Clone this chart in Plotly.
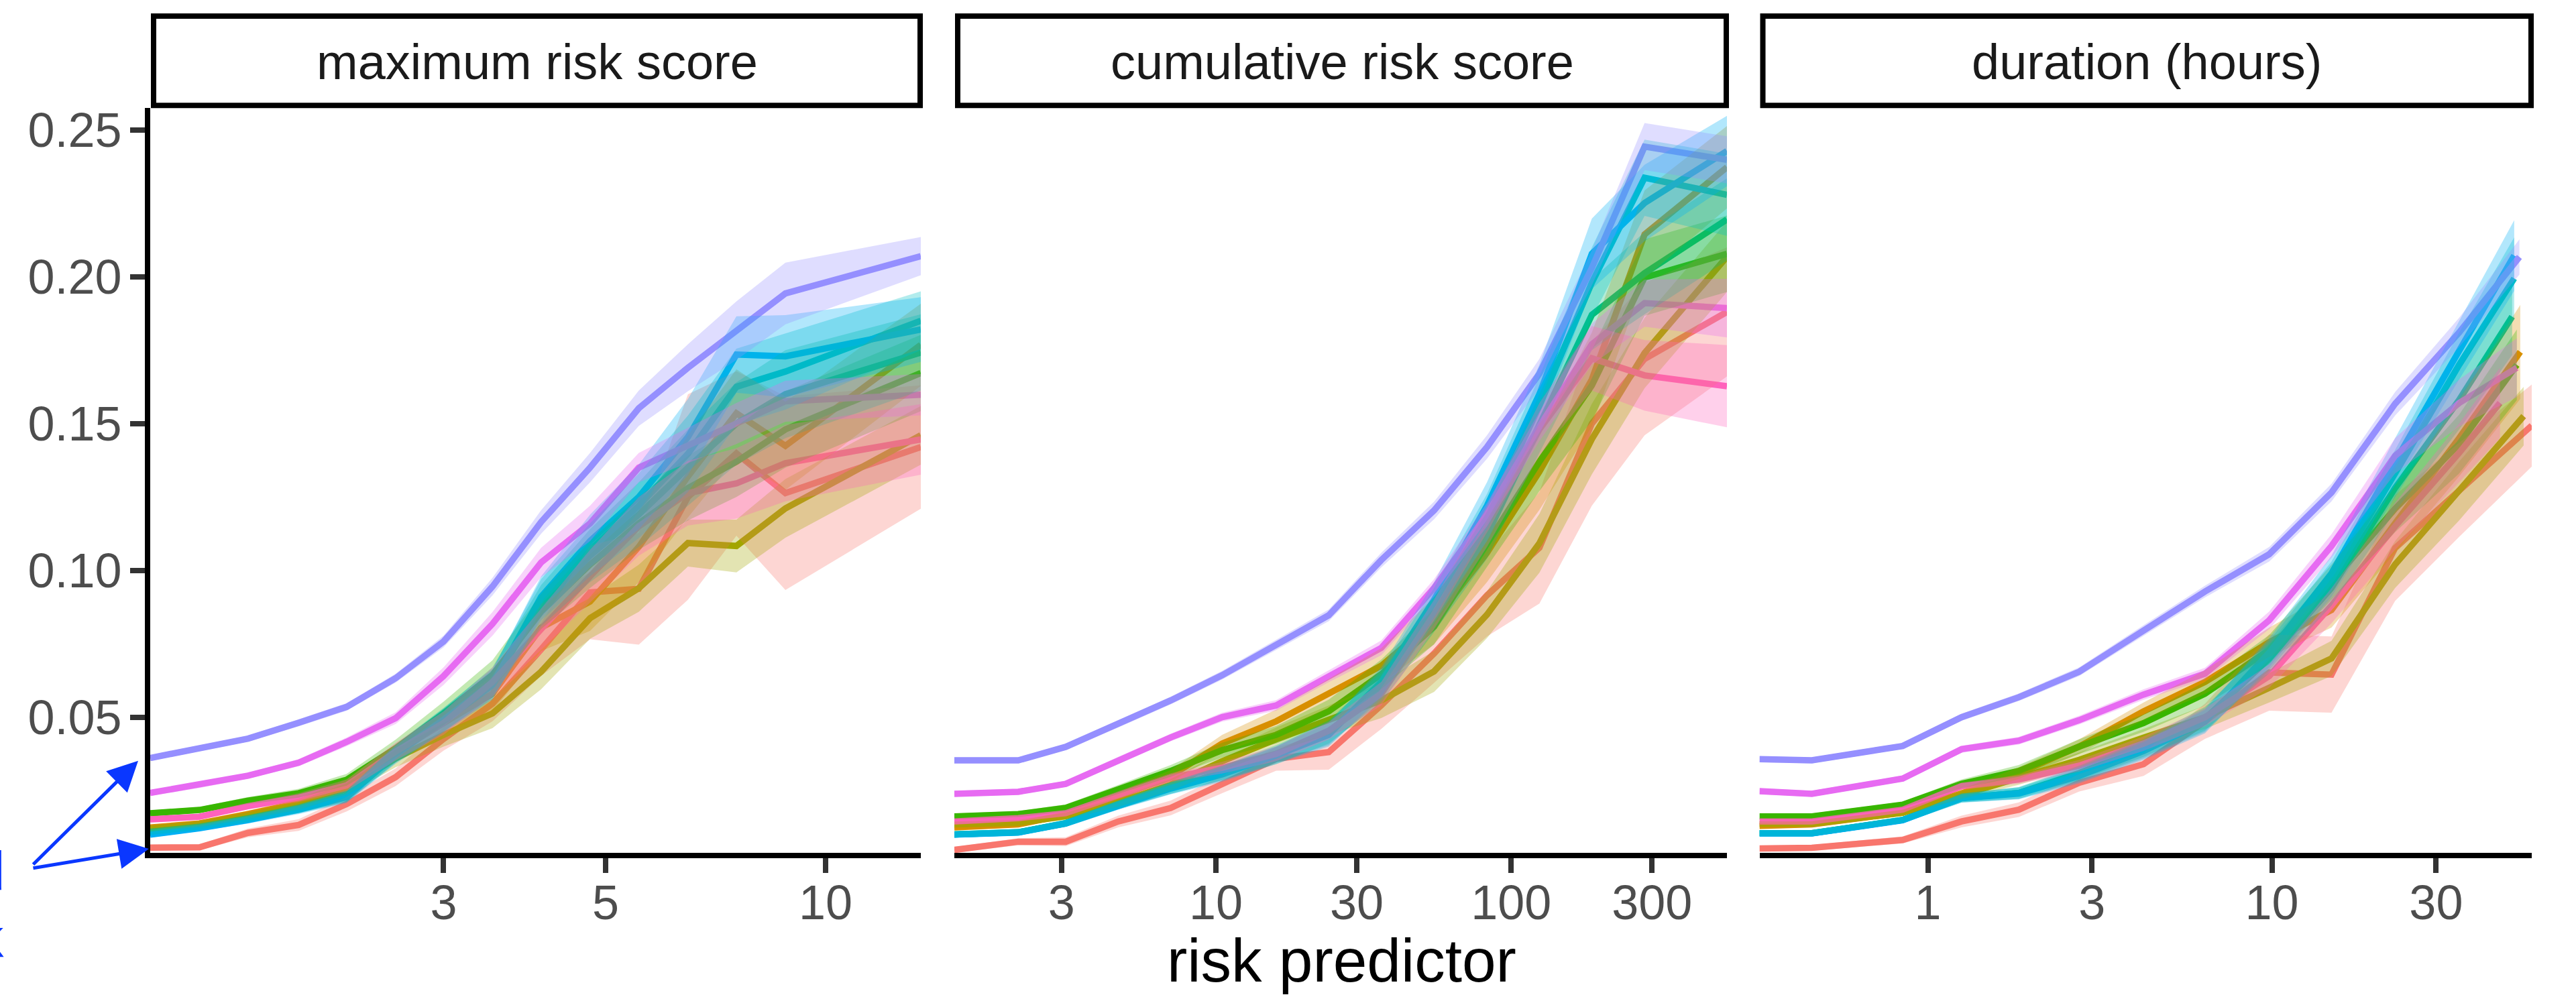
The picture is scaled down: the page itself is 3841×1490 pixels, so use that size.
import plotly.graph_objects as go
import math

W, H = 3841, 1490

# ---------------- data ----------------
SERIES = ["group 1", "group 2", "group 3", "group 4", "group 5",
          "group 6", "group 7", "group 8", "group 9", "group 10"]
COLORS = ["#F8766D", "#D89000", "#A3A500", "#39B600", "#00BF7D",
          "#00BFC4", "#00B0F6", "#9590FF", "#E76BF3", "#FF62BC"]

PANEL_TITLES = ["maximum risk score", "cumulative risk score", "duration (hours)"]
X_AXIS_TITLE = "risk predictor"
Y_TICKS = [0.05, 0.10, 0.15, 0.20, 0.25]
Y_TICK_LABELS = ["0.05", "0.10", "0.15", "0.20", "0.25"]
P1_TICKS = [3, 5, 10]
P2_TICKS = [3, 10, 30, 100, 300]
P3_TICKS = [1, 3, 10, 30]

# panel 1: maximum risk score
P1_X = [1.19, 1.39, 1.62, 1.90, 2.21, 2.58, 3.0, 3.50, 4.08, 4.76, 5.55, 6.48, 7.55, 8.81, 13.5]
P1_MEAN = {
    "group 1":  [0.0056, 0.0057, 0.0106, 0.0133, 0.0204, 0.0296, 0.0426, 0.0546, 0.0731, 0.0925, 0.0937, 0.125, 0.1398, 0.1263, 0.142],
    "group 2":  [0.0124, 0.0138, 0.0170, 0.0207, 0.0268, 0.0380, 0.0480, 0.0580, 0.0805, 0.0894, 0.108, 0.132, 0.1535, 0.1424, 0.1768],
    "group 3":  [0.0120, 0.0135, 0.0165, 0.0200, 0.0255, 0.0360, 0.0440, 0.0513, 0.0655, 0.0837, 0.0939, 0.1093, 0.1083, 0.1211, 0.146],
    "group 4":  [0.0173, 0.0184, 0.0216, 0.0241, 0.0287, 0.0394, 0.0513, 0.0644, 0.0860, 0.102, 0.116, 0.128, 0.137, 0.148, 0.1672],
    "group 5":  [0.0110, 0.0127, 0.0155, 0.0189, 0.0232, 0.0375, 0.0490, 0.0620, 0.088, 0.105, 0.119, 0.135, 0.150, 0.160, 0.1742],
    "group 6":  [0.0106, 0.0125, 0.0153, 0.0187, 0.0230, 0.0378, 0.0492, 0.0615, 0.090, 0.107, 0.122, 0.1397, 0.1625, 0.1677, 0.185],
    "group 7":  [0.0100, 0.0122, 0.0150, 0.0185, 0.0228, 0.0372, 0.0488, 0.0610, 0.091, 0.110, 0.125, 0.1454, 0.1735, 0.1729, 0.182],
    "group 8":  [0.0361, 0.0394, 0.0427, 0.0481, 0.0535, 0.0633, 0.0758, 0.0945, 0.1165, 0.135, 0.1552, 0.169, 0.1816, 0.1943, 0.207],
    "group 9":  [0.0242, 0.0269, 0.0301, 0.0345, 0.0416, 0.0497, 0.0640, 0.0818, 0.1027, 0.116, 0.135, 0.1425, 0.150, 0.1576, 0.1598],
    "group 10": [0.0152, 0.0161, 0.0197, 0.0226, 0.0268, 0.0383, 0.0480, 0.062, 0.080, 0.098, 0.115, 0.1263, 0.1296, 0.1365, 0.1446],
}
P1_ERR = {
    "group 1":  [0.001, 0.001, 0.0015, 0.002, 0.0025, 0.003, 0.004, 0.006, 0.009, 0.016, 0.019, 0.035, 0.028, 0.033, 0.021],
    "group 2":  [0.001, 0.001, 0.0012, 0.0015, 0.002, 0.003, 0.004, 0.006, 0.008, 0.010, 0.012, 0.014, 0.015, 0.015, 0.014],
    "group 3":  [0.001, 0.001, 0.0012, 0.0015, 0.002, 0.003, 0.004, 0.005, 0.006, 0.007, 0.008, 0.008, 0.009, 0.010, 0.010],
    "group 4":  [0.001, 0.001, 0.0012, 0.0015, 0.002, 0.003, 0.004, 0.005, 0.006, 0.008, 0.009, 0.011, 0.012, 0.013, 0.013],
    "group 5":  [0.001, 0.001, 0.0012, 0.0015, 0.002, 0.003, 0.004, 0.005, 0.007, 0.009, 0.011, 0.013, 0.014, 0.015, 0.013],
    "group 6":  [0.001, 0.001, 0.0012, 0.0015, 0.002, 0.003, 0.004, 0.005, 0.007, 0.009, 0.011, 0.013, 0.013, 0.013, 0.010],
    "group 7":  [0.001, 0.001, 0.0012, 0.0015, 0.002, 0.003, 0.004, 0.005, 0.007, 0.009, 0.011, 0.013, 0.013, 0.014, 0.011],
    "group 8":  [0.001, 0.001, 0.001, 0.0012, 0.0013, 0.0015, 0.002, 0.003, 0.004, 0.005, 0.006, 0.008, 0.010, 0.0105, 0.0065],
    "group 9":  [0.001, 0.001, 0.001, 0.0012, 0.0015, 0.002, 0.003, 0.004, 0.005, 0.006, 0.005, 0.006, 0.007, 0.007, 0.007],
    "group 10": [0.001, 0.001, 0.001, 0.0015, 0.002, 0.003, 0.004, 0.005, 0.007, 0.009, 0.010, 0.011, 0.012, 0.013, 0.012],
}

# panel 2: cumulative risk score
P2_X = [1.30, 2.14, 3.10, 4.67, 7.03, 10.5, 16.0, 24.1, 36.3, 54.8, 82.8, 124.6, 187.6, 283, 538]
P2_MEAN = {
    "group 1":  [0.0048, 0.0076, 0.0076, 0.0145, 0.0191, 0.0271, 0.0358, 0.0381, 0.0540, 0.0717, 0.0915, 0.1077, 0.150, 0.172, 0.188],
    "group 2":  [0.0125, 0.0135, 0.0168, 0.023, 0.030, 0.041, 0.0486, 0.058, 0.0675, 0.0828, 0.106, 0.1336, 0.165, 0.2144, 0.2373],
    "group 3":  [0.0135, 0.0140, 0.0163, 0.021, 0.027, 0.035, 0.0425, 0.049, 0.0557, 0.0656, 0.0849, 0.1092, 0.1447, 0.174, 0.2068],
    "group 4":  [0.0162, 0.0170, 0.0191, 0.0254, 0.0317, 0.0388, 0.0440, 0.052, 0.0646, 0.0808, 0.1092, 0.137, 0.163, 0.1997, 0.2078],
    "group 5":  [0.0101, 0.0108, 0.0139, 0.0202, 0.0259, 0.031, 0.037, 0.045, 0.060, 0.085, 0.112, 0.150, 0.187, 0.2012, 0.2195],
    "group 6":  [0.0101, 0.0108, 0.0139, 0.0202, 0.0259, 0.031, 0.0375, 0.0445, 0.061, 0.088, 0.118, 0.156, 0.198, 0.2337, 0.2279],
    "group 7":  [0.0100, 0.0107, 0.0138, 0.0200, 0.0257, 0.0305, 0.037, 0.044, 0.062, 0.090, 0.122, 0.160, 0.2078, 0.2251, 0.2428],
    "group 8":  [0.0353, 0.0353, 0.0399, 0.0477, 0.0557, 0.0643, 0.0746, 0.0847, 0.1035, 0.1204, 0.1420, 0.1670, 0.203, 0.2443, 0.2398],
    "group 9":  [0.0239, 0.0246, 0.0273, 0.0353, 0.0431, 0.0500, 0.0540, 0.0639, 0.0736, 0.094, 0.119, 0.149, 0.177, 0.191, 0.1893],
    "group 10": [0.0145, 0.0156, 0.0173, 0.0236, 0.0294, 0.0328, 0.0375, 0.0454, 0.058, 0.085, 0.115, 0.148, 0.1722, 0.1664, 0.1627],
}
P2_ERR = {
    "group 1":  [0.001, 0.0012, 0.0015, 0.002, 0.0025, 0.003, 0.004, 0.006, 0.008, 0.010, 0.014, 0.019, 0.028, 0.026, 0.022],
    "group 2":  [0.001, 0.001, 0.0012, 0.0015, 0.002, 0.003, 0.004, 0.005, 0.006, 0.008, 0.010, 0.013, 0.016, 0.015, 0.014],
    "group 3":  [0.001, 0.001, 0.0012, 0.0015, 0.002, 0.003, 0.004, 0.005, 0.006, 0.007, 0.008, 0.010, 0.012, 0.012, 0.012],
    "group 4":  [0.001, 0.001, 0.0012, 0.0015, 0.002, 0.0025, 0.003, 0.004, 0.005, 0.006, 0.008, 0.010, 0.012, 0.013, 0.013],
    "group 5":  [0.001, 0.001, 0.0012, 0.0015, 0.002, 0.0025, 0.003, 0.004, 0.005, 0.006, 0.008, 0.010, 0.012, 0.014, 0.014],
    "group 6":  [0.001, 0.001, 0.0012, 0.0015, 0.002, 0.0025, 0.003, 0.004, 0.005, 0.006, 0.008, 0.010, 0.012, 0.013, 0.014],
    "group 7":  [0.001, 0.001, 0.0012, 0.0015, 0.002, 0.0025, 0.003, 0.004, 0.005, 0.006, 0.008, 0.010, 0.012, 0.013, 0.012],
    "group 8":  [0.001, 0.001, 0.001, 0.0012, 0.0013, 0.0015, 0.0018, 0.002, 0.0025, 0.003, 0.004, 0.005, 0.006, 0.008, 0.008],
    "group 9":  [0.001, 0.001, 0.001, 0.0012, 0.0013, 0.0015, 0.0018, 0.002, 0.0025, 0.003, 0.004, 0.005, 0.007, 0.008, 0.010],
    "group 10": [0.001, 0.001, 0.001, 0.0012, 0.0015, 0.002, 0.0025, 0.003, 0.004, 0.005, 0.007, 0.009, 0.011, 0.012, 0.014],
}

# panel 3: duration (hours); last x differs per group
P3_X = [0.324, 0.460, 0.845, 1.253, 1.838, 2.755, 4.236, 6.39, 9.82, 14.9, 22.8, 35.0]
P3_END_X = {
    "group 1": 56.9, "group 2": 52.7, "group 3": 53.9, "group 4": 51.5, "group 5": 49.9,
    "group 6": 50.6, "group 7": 50.6, "group 8": 52.4, "group 9": 51.5, "group 10": 46.0,
}
P3_MEAN = {
    "group 1":  [0.0053, 0.0055, 0.0082, 0.0145, 0.0185, 0.0277, 0.034, 0.0486, 0.0652, 0.0645, 0.1076, 0.1274, 0.1493],
    "group 2":  [0.0130, 0.0135, 0.0175, 0.024, 0.031, 0.040, 0.052, 0.062, 0.0755, 0.0865, 0.116, 0.145, 0.1744],
    "group 3":  [0.0137, 0.0137, 0.0175, 0.0236, 0.029, 0.0355, 0.043, 0.050, 0.060, 0.070, 0.102, 0.127, 0.1525],
    "group 4":  [0.0162, 0.0162, 0.0202, 0.0273, 0.0317, 0.040, 0.048, 0.058, 0.073, 0.096, 0.121, 0.143, 0.170],
    "group 5":  [0.0105, 0.0105, 0.0150, 0.0225, 0.0242, 0.0310, 0.0395, 0.0495, 0.070, 0.094, 0.128, 0.158, 0.1864],
    "group 6":  [0.0105, 0.0105, 0.0150, 0.0225, 0.0242, 0.0305, 0.0390, 0.0490, 0.071, 0.097, 0.133, 0.170, 0.1994],
    "group 7":  [0.0104, 0.0104, 0.0149, 0.0224, 0.0240, 0.0300, 0.0385, 0.0485, 0.072, 0.099, 0.137, 0.175, 0.2072],
    "group 8":  [0.0357, 0.0353, 0.0402, 0.050, 0.0568, 0.0655, 0.0795, 0.0928, 0.1055, 0.1265, 0.1567, 0.181, 0.2067],
    "group 9":  [0.0248, 0.0239, 0.0291, 0.0391, 0.042, 0.049, 0.0577, 0.0648, 0.083, 0.1083, 0.139, 0.157, 0.169],
    "group 10": [0.0145, 0.0145, 0.0185, 0.0265, 0.0288, 0.0335, 0.041, 0.050, 0.064, 0.088, 0.115, 0.140, 0.157],
}
P3_ERR = {
    "group 1":  [0.001, 0.001, 0.0012, 0.002, 0.0025, 0.003, 0.004, 0.006, 0.013, 0.013, 0.018, 0.016, 0.014],
    "group 2":  [0.001, 0.001, 0.001, 0.0015, 0.002, 0.0025, 0.003, 0.004, 0.005, 0.006, 0.010, 0.013, 0.016],
    "group 3":  [0.001, 0.001, 0.001, 0.0015, 0.002, 0.0025, 0.003, 0.004, 0.005, 0.006, 0.008, 0.010, 0.010],
    "group 4":  [0.001, 0.001, 0.001, 0.0015, 0.002, 0.0025, 0.003, 0.004, 0.005, 0.006, 0.008, 0.010, 0.012],
    "group 5":  [0.001, 0.001, 0.001, 0.0015, 0.002, 0.0025, 0.003, 0.004, 0.005, 0.006, 0.008, 0.010, 0.013],
    "group 6":  [0.001, 0.001, 0.001, 0.0015, 0.002, 0.0025, 0.003, 0.004, 0.005, 0.006, 0.008, 0.011, 0.014],
    "group 7":  [0.001, 0.001, 0.001, 0.0015, 0.002, 0.0025, 0.003, 0.004, 0.005, 0.006, 0.008, 0.010, 0.012],
    "group 8":  [0.001, 0.001, 0.001, 0.0012, 0.0013, 0.0015, 0.0018, 0.002, 0.0025, 0.003, 0.004, 0.005, 0.006],
    "group 9":  [0.001, 0.001, 0.001, 0.0012, 0.0013, 0.0015, 0.0018, 0.002, 0.003, 0.004, 0.006, 0.008, 0.010],
    "group 10": [0.001, 0.001, 0.001, 0.0012, 0.0015, 0.002, 0.0025, 0.003, 0.004, 0.006, 0.008, 0.010, 0.012],
}

ANNOT_LINES = ["observed", "risk"]

# ---------------- layout geometry (pixels) ----------------
FONT = "Liberation Sans, Arial, Helvetica, sans-serif"
PANELS_PX = [(224, 1373), (1423, 2575), (2623.5, 3775)]
PLOT_TOP, PLOT_BOTTOM = 155, 1271
STRIP_TOP, STRIP_BOTTOM = 17, 151
Y_RANGE = [0.0038, 0.2574]


def px(xp):
    return xp / W


def py(yp):
    return 1 - yp / H


def rgba(hexc, a):
    h = hexc.lstrip("#")
    return "rgba(%d,%d,%d,%.2f)" % (int(h[0:2], 16), int(h[2:4], 16), int(h[4:6], 16), a)


fig = go.Figure()

panel_data = [
    ({s: P1_X for s in SERIES}, P1_MEAN, P1_ERR),
    ({s: P2_X for s in SERIES}, P2_MEAN, P2_ERR),
    ({s: P3_X + [P3_END_X[s]] for s in SERIES}, P3_MEAN, P3_ERR),
]

x_ranges = []
for pi, (xs, means, errs) in enumerate(panel_data):
    xa = "x" if pi == 0 else "x%d" % (pi + 1)
    ya = "y" if pi == 0 else "y%d" % (pi + 1)
    allx = [v for s in SERIES for v in xs[s]]
    x_ranges.append([math.log10(min(allx)), math.log10(max(allx))])
    # lines first
    for s, c in zip(SERIES, COLORS):
        fig.add_trace(go.Scatter(x=xs[s], y=means[s], mode="lines",
                                 line=dict(color=c, width=9.5),
                                 xaxis=xa, yaxis=ya, showlegend=False,
                                 hoverinfo="skip"))
    # ribbons drawn over the lines
    for s, c in zip(SERIES, COLORS):
        hi = [m + e for m, e in zip(means[s], errs[s])]
        lo = [m - e for m, e in zip(means[s], errs[s])]
        fig.add_trace(go.Scatter(x=xs[s] + xs[s][::-1], y=hi + lo[::-1],
                                 mode="lines", fill="toself",
                                 fillcolor=rgba(c, 0.30), line=dict(width=0),
                                 xaxis=xa, yaxis=ya, showlegend=False,
                                 hoverinfo="skip"))

tick_sets = [P1_TICKS, P2_TICKS, P3_TICKS]
layout = dict(
    width=W, height=H, margin=dict(l=0, r=0, t=0, b=0),
    paper_bgcolor="white", plot_bgcolor="white",
    font=dict(family=FONT, color="#4D4D4D"),
    showlegend=False,
)
for pi in range(3):
    key = "xaxis" if pi == 0 else "xaxis%d" % (pi + 1)
    yk = "y" if pi == 0 else "y%d" % (pi + 1)
    layout[key] = dict(
        type="log", domain=[px(PANELS_PX[pi][0]), px(PANELS_PX[pi][1])],
        range=x_ranges[pi], anchor=yk,
        tickvals=tick_sets[pi], ticktext=[str(t) for t in tick_sets[pi]],
        ticks="outside", ticklen=22, tickwidth=8, tickcolor="#333333",
        tickfont=dict(size=72, color="#4D4D4D", family=FONT),
        showline=True, linecolor="black", linewidth=8,
        showgrid=False, zeroline=False, ticklabelstandoff=-17,
    )
    ykey = "yaxis" if pi == 0 else "yaxis%d" % (pi + 1)
    xk = "x" if pi == 0 else "x%d" % (pi + 1)
    ydict = dict(domain=[py(PLOT_BOTTOM), py(PLOT_TOP)], range=Y_RANGE,
                 anchor=xk, showgrid=False, zeroline=False)
    if pi == 0:
        ydict.update(tickvals=Y_TICKS, ticktext=Y_TICK_LABELS,
                     ticks="outside", ticklen=22, tickwidth=8, tickcolor="#333333",
                     tickfont=dict(size=72, color="#4D4D4D", family=FONT),
                     showline=True, linecolor="black", linewidth=8,
                     ticklabelstandoff=-2)
    else:
        ydict.update(matches="y", showticklabels=False, ticks="",
                     showline=False)
    layout[ykey] = ydict

fig.update_layout(**layout)

shapes = []
annotations = []
for pi, (x0, x1) in enumerate(PANELS_PX):
    shapes.append(dict(type="rect", xref="paper", yref="paper",
                       x0=px(x0 + 5), x1=px(x1 - 1),
                       y0=py(STRIP_BOTTOM), y1=py(STRIP_TOP),
                       line=dict(color="black", width=8), fillcolor="white",
                       layer="above"))
    annotations.append(dict(text=PANEL_TITLES[pi], xref="paper", yref="paper",
                            x=px((x0 + x1) / 2 + 2), y=py(86),
                            xanchor="center", yanchor="middle", showarrow=False,
                            font=dict(size=74, color="#1A1A1A", family=FONT)))

annotations.append(dict(text=X_AXIS_TITLE, xref="paper", yref="paper",
                        x=px(2000), y=py(1432), xanchor="center", yanchor="middle",
                        showarrow=False, font=dict(size=91, color="black", family=FONT)))

# blue call-out (text partly off the left edge)
BLUE = "#0A37FF"
annotations.append(dict(text=ANNOT_LINES[0], xref="paper", yref="paper",
                        x=px(9), y=py(1298), xanchor="right", yanchor="middle",
                        showarrow=False, font=dict(size=82, color=BLUE, family=FONT)))
annotations.append(dict(text=ANNOT_LINES[1], xref="paper", yref="paper",
                        x=px(9), y=py(1398), xanchor="right", yanchor="middle",
                        showarrow=False, font=dict(size=82, color=BLUE, family=FONT)))
for (hx, hy, tx, ty) in [(206, 1133, 48, 1289), (222, 1265, 48, 1294)]:
    annotations.append(dict(text="", xref="paper", yref="paper",
                            x=px(hx), y=py(hy), ax=tx - hx, ay=ty - hy,
                            axref="pixel", ayref="pixel",
                            showarrow=True, arrowhead=2, arrowsize=1.8,
                            arrowwidth=5, arrowcolor=BLUE))

fig.update_layout(shapes=shapes, annotations=annotations)
fig.write_html("out.html")
